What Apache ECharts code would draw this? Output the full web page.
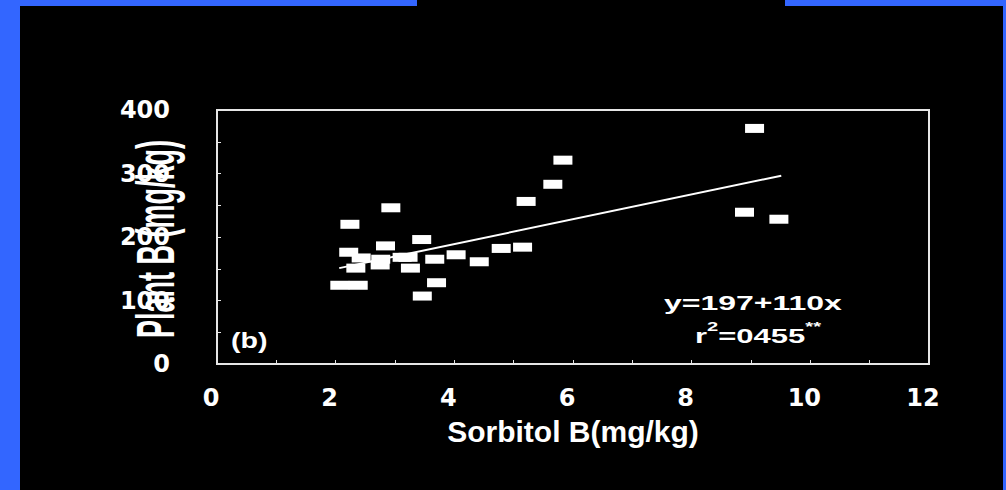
<!DOCTYPE html>
<html>
<head>
<meta charset="utf-8">
<script src="https://cdn.jsdelivr.net/npm/echarts@6/dist/echarts.min.js"></script>
<style>
  html, body { margin: 0; padding: 0; background: #000; }
  #wrap { position: relative; width: 1006px; height: 490px; background: #000; overflow: hidden; }
  #chart { position: absolute; left: 0; top: 0; width: 1006px; height: 490px; }
  .bar { position: absolute; background: #3366ff; }
</style>
</head>
<body>
<div id="wrap">
  <div id="chart"></div>
  <div class="bar" style="left:0;top:0;width:20px;height:490px;"></div>
  <div class="bar" style="left:0;top:0;width:417px;height:6px;"></div>
  <div class="bar" style="left:785px;top:0;width:221px;height:6px;"></div>
  <div class="bar" style="left:1003px;top:0;width:3px;height:490px;"></div>
</div>
<script>
// Sorbitol-extractable soil B (mg/kg) vs plant B (mg/kg)
const sorbitolB = [2.93, 2.24, 3.45, 2.84, 2.22, 2.43, 2.76, 2.75, 3.12, 3.22, 2.34, 3.26, 3.67, 4.03,
                   2.07, 2.38, 3.70, 3.46, 5.83, 5.66, 5.21, 5.15, 4.79, 4.42, 9.06, 8.89, 9.47];
const plantB    = [246, 220, 196, 186, 176, 167, 165, 156, 168, 168, 151, 151, 165, 172,
                   124, 124, 128, 107, 321, 283, 256, 184, 182, 161, 371, 239, 228];
// fitted regression line end points
const fitX = [2.06, 9.51];
const fitY = [151, 296.5];
// axis ranges / tick labels
const xRange = [0, 12], xStep = 1, xLabelStep = 2;
const yRange = [0, 400], yStep = 50, yLabelStep = 100;
const xTitle = 'Sorbitol B(mg/kg)';
const yTitle = 'Plant B (mg/kg)';
const panelLabel = '(b)';
const eqText = 'y=197+110x';

const chart = echarts.init(document.getElementById('chart'), null, { renderer: 'svg' });
const pts = sorbitolB.map((x, i) => [x, plantB[i]]);
const fit = fitX.map((x, i) => [x, fitY[i]]);

chart.setOption({
  backgroundColor: '#000',
  animation: false,
  grid: { left: 217, top: 110, right: 77, bottom: 126, show: true, borderColor: '#e6e6e6', borderWidth: 2, backgroundColor: 'transparent' },
  xAxis: {
    type: 'value', min: xRange[0], max: xRange[1], interval: xStep,
    name: xTitle, nameLocation: 'middle', nameGap: 52,
    nameTextStyle: { color: '#fff', fontSize: 30, fontFamily: 'Liberation Sans', fontWeight: 'bold' },
    axisLine: { show: true, onZero: false, lineStyle: { color: '#e6e6e6', width: 2 } },
    axisTick: { show: true, inside: true, length: 4, lineStyle: { color: '#e6e6e6' } },
    axisLabel: { color: '#fff', fontSize: 24, fontWeight: 'bold', fontFamily: 'DejaVu Sans', margin: 22, padding: [0, 12, 0, 0],
      formatter: v => (Math.round(v) % xLabelStep === 0 ? String(v) : '') },
    splitLine: { show: false }
  },
  yAxis: {
    type: 'value', min: yRange[0], max: yRange[1], interval: yStep,
    axisLine: { show: true, onZero: false, lineStyle: { color: '#e6e6e6', width: 2 } },
    axisTick: { show: true, inside: true, length: 4, lineStyle: { color: '#e6e6e6' } },
    axisLabel: { color: '#fff', fontSize: 24, fontWeight: 'bold', fontFamily: 'DejaVu Sans', margin: 47,
      formatter: v => (Math.round(v) % yLabelStep === 0 ? String(v) : '') },
    splitLine: { show: false }
  },
  series: [
    { type: 'line', data: fit, showSymbol: false, symbol: 'none', lineStyle: { color: '#fff', width: 2 }, z: 2 },
    { type: 'scatter', data: pts, symbol: 'rect', symbolSize: [19, 9], itemStyle: { color: '#fff', opacity: 1 }, z: 3 }
  ],
  graphic: [
    { type: 'text', x: 155, y: 239, rotation: Math.PI / 2, scaleX: 0.5, z: 10,
      style: { text: yTitle, fill: '#fff', font: 'bold 54px "Liberation Sans"', align: 'center', verticalAlign: 'middle' } },
    { type: 'text', x: 231, y: 329, scaleX: 1.3, z: 10,
      style: { text: panelLabel, fill: '#fff', font: 'bold 22px "Liberation Sans"', align: 'left', verticalAlign: 'top' } },
    { type: 'text', x: 664, y: 293, scaleX: 1.6, z: 10,
      style: { text: eqText, fill: '#fff', font: 'bold 20px "Liberation Sans"', align: 'left', verticalAlign: 'top' } },
    { type: 'text', x: 695, y: 320, scaleX: 1.55, z: 10,
      style: { text: '{a|r}{s|2}{a|=0455}{s|**}', fill: '#fff', align: 'left', verticalAlign: 'top',
        rich: {
          a: { fill: '#fff', fontSize: 20, fontWeight: 'bold', fontFamily: 'Liberation Sans', lineHeight: 26, verticalAlign: 'bottom' },
          s: { fill: '#fff', fontSize: 13, fontWeight: 'bold', fontFamily: 'Liberation Sans', lineHeight: 26, verticalAlign: 'top' }
        } } }
  ]
});
</script>
</body>
</html>
